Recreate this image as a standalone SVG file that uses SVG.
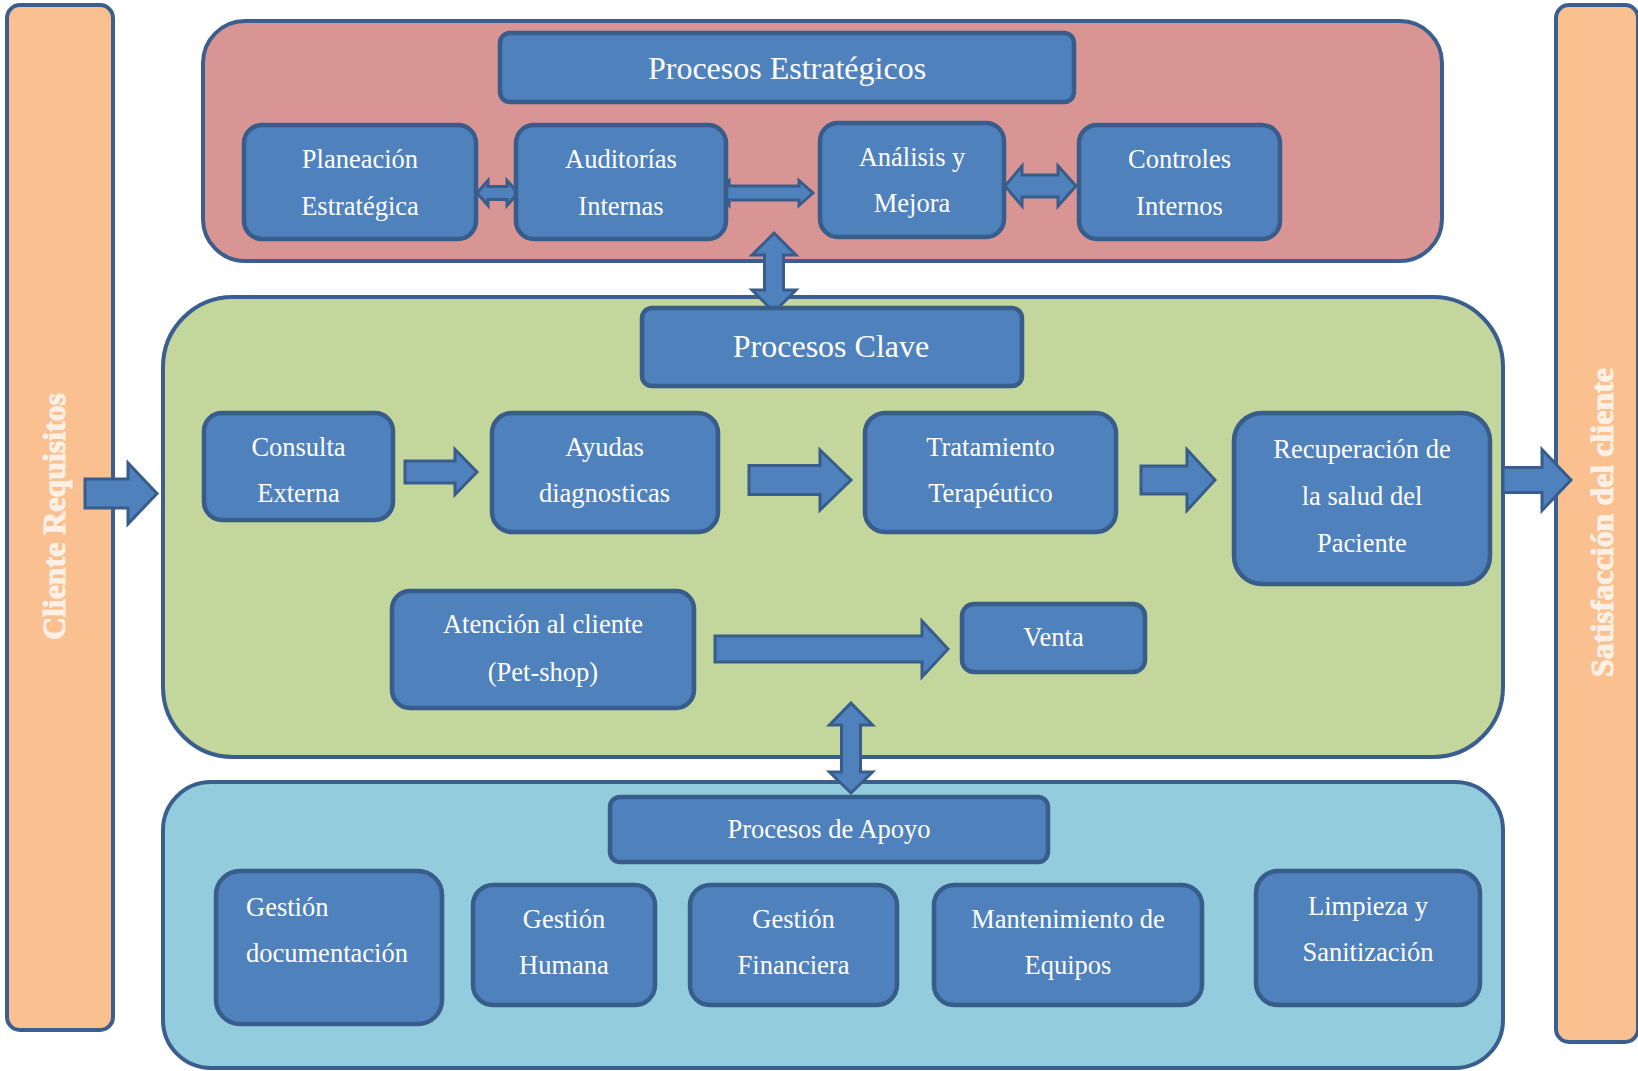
<svg xmlns="http://www.w3.org/2000/svg" width="1638" height="1071" viewBox="0 0 1638 1071">
  <style>
    .bar { fill: #FAC090; stroke: #3A5F8E; stroke-width: 4; }
    .panel { stroke: #3A5F8E; stroke-width: 4; }
    .node { fill: #4F81BD; stroke: #385D8A; stroke-width: 4.5; }
    .arrow { fill: #4F81BD; stroke: #385D8A; stroke-width: 3; stroke-linejoin: miter; }
    .t { font-family: "Liberation Serif", "Times New Roman", serif; fill: #FFFFFF; text-anchor: middle; font-size: 26.5px; }
    .big { font-size: 32px; }
    .side { font-family: "Liberation Serif", "Times New Roman", serif; font-weight: bold; font-size: 32px; fill: #FDF1E7; stroke: #FDF1E7; stroke-width: 1; text-anchor: middle; }
  </style>
  <rect width="1638" height="1071" fill="#FFFFFF"/>

  <!-- side bars -->
  <g id="cliente-requisitos">
    <rect class="bar" x="7" y="5" width="106" height="1025" rx="13"/>
    <text class="side" transform="translate(64.5,516.5) rotate(-90)" textLength="247" lengthAdjust="spacingAndGlyphs">Cliente Requisitos</text>
  </g>
  <g id="satisfaccion-cliente">
    <rect class="bar" x="1556" y="5" width="82" height="1037" rx="13"/>
    <text class="side" transform="translate(1613,522.5) rotate(-90)" textLength="309" lengthAdjust="spacingAndGlyphs">Satisfacción del cliente</text>
  </g>

  <!-- group panels -->
  <g id="panel-estrategicos">
    <rect class="panel" x="203" y="21" width="1239" height="240" rx="42" fill="#D99594"/>
  </g>
  <g id="panel-clave">
    <rect class="panel" x="163" y="297" width="1340" height="460" rx="70" fill="#C3D69B"/>
  </g>
  <g id="panel-apoyo">
    <rect class="panel" x="163" y="782" width="1340" height="286" rx="48" fill="#93CDDD"/>
  </g>

  <!-- connectors -->
  <g id="connectors">
    <!-- Planeación <-> Auditorías -->
    <polygon class="arrow" points="477,193 488,180.5 488,186.5 507,186.5 507,180.5 518,193 507,205.5 507,199.5 488,199.5 488,205.5"/>
    <!-- Auditorías <-> Análisis -->
    <polygon class="arrow" points="715,193 729,180.5 729,186 799,186 799,180.5 813,193 799,205.5 799,200 729,200 729,205.5"/>
    <!-- Análisis <-> Controles -->
    <polygon class="arrow" points="1005,186 1022,166 1022,175 1058,175 1058,166 1076,186 1058,206 1058,197 1022,197 1022,206"/>
    <!-- Estratégicos <-> Clave -->
    <polygon class="arrow" points="774,233 796,255 783.5,255 783.5,290 796,290 774,312 752,290 764.5,290 764.5,255 752,255"/>
    <!-- Clave <-> Apoyo -->
    <polygon class="arrow" points="851,703 872.5,725 860.5,725 860.5,772 872.5,772 851,793 829.5,772 841.5,772 841.5,725 829.5,725"/>
    <!-- Cliente -> Clave -->
    <polygon class="arrow" points="85,479 128,479 128,463 157,493.5 128,524 128,508 85,508"/>
    <!-- Consulta -> Ayudas -->
    <polygon class="arrow" points="405,461 455,461 455,449.5 477,472 455,494.5 455,483 405,483"/>
    <!-- Ayudas -> Tratamiento -->
    <polygon class="arrow" points="749,465.5 820,465.5 820,450 851,480 820,510 820,494.5 749,494.5"/>
    <!-- Tratamiento -> Recuperación -->
    <polygon class="arrow" points="1141,466 1187,466 1187,449.5 1215,480 1187,510.5 1187,494 1141,494"/>
    <!-- Recuperación -> Satisfacción -->
    <polygon class="arrow" points="1503,467.5 1542,467.5 1542,449.5 1571,480 1542,510.5 1542,492.5 1503,492.5"/>
    <!-- Atención -> Venta -->
    <polygon class="arrow" points="715,636 922,636 922,621 948,649 922,677 922,662 715,662"/>
  </g>

  <!-- Procesos Estratégicos -->
  <g id="procesos-estrategicos">
    <rect class="node" x="500" y="33" width="574" height="69" rx="10"/>
    <text class="t big" x="787" y="79">Procesos Estratégicos</text>
  </g>
  <g id="planeacion-estrategica">
    <rect class="node" x="244" y="125" width="232" height="114" rx="18"/>
    <text class="t" x="360" y="168">Planeación</text>
    <text class="t" x="360" y="215">Estratégica</text>
  </g>
  <g id="auditorias-internas">
    <rect class="node" x="516" y="125" width="210" height="114" rx="18"/>
    <text class="t" x="621" y="168">Auditorías</text>
    <text class="t" x="621" y="215">Internas</text>
  </g>
  <g id="analisis-mejora">
    <rect class="node" x="820" y="123" width="184" height="114" rx="18"/>
    <text class="t" x="912" y="166">Análisis y</text>
    <text class="t" x="912" y="212">Mejora</text>
  </g>
  <g id="controles-internos">
    <rect class="node" x="1079" y="125" width="201" height="114" rx="18"/>
    <text class="t" x="1179.5" y="168">Controles</text>
    <text class="t" x="1179.5" y="215">Internos</text>
  </g>

  <!-- Procesos Clave -->
  <g id="procesos-clave">
    <rect class="node" x="642" y="308" width="380" height="78" rx="10"/>
    <text class="t big" x="831" y="357">Procesos Clave</text>
  </g>
  <g id="consulta-externa">
    <rect class="node" x="204" y="413" width="189" height="107" rx="18"/>
    <text class="t" x="298.5" y="456">Consulta</text>
    <text class="t" x="298.5" y="502">Externa</text>
  </g>
  <g id="ayudas-diagnosticas">
    <rect class="node" x="492" y="413" width="226" height="119" rx="20"/>
    <text class="t" x="604.5" y="456">Ayudas</text>
    <text class="t" x="604.5" y="502">diagnosticas</text>
  </g>
  <g id="tratamiento-terapeutico">
    <rect class="node" x="865" y="413" width="251" height="119" rx="20"/>
    <text class="t" x="990.5" y="456">Tratamiento</text>
    <text class="t" x="990.5" y="502">Terapéutico</text>
  </g>
  <g id="recuperacion-salud">
    <rect class="node" x="1234" y="413" width="256" height="171" rx="28"/>
    <text class="t" x="1362" y="458">Recuperación de</text>
    <text class="t" x="1362" y="505">la salud del</text>
    <text class="t" x="1362" y="552">Paciente</text>
  </g>
  <g id="atencion-cliente">
    <rect class="node" x="392" y="591" width="302" height="117" rx="18"/>
    <text class="t" x="543" y="633">Atención al cliente</text>
    <text class="t" x="543" y="681">(Pet-shop)</text>
  </g>
  <g id="venta">
    <rect class="node" x="962" y="604" width="183" height="68" rx="12"/>
    <text class="t" x="1053.5" y="646">Venta</text>
  </g>

  <!-- Procesos de Apoyo -->
  <g id="procesos-apoyo">
    <rect class="node" x="610" y="797" width="438" height="65" rx="10"/>
    <text class="t" x="829" y="838">Procesos de Apoyo</text>
  </g>
  <g id="gestion-documentacion">
    <rect class="node" x="216" y="871" width="226" height="153" rx="24"/>
    <text class="t" x="246" y="916" style="text-anchor:start">Gestión</text>
    <text class="t" x="246" y="962" style="text-anchor:start">documentación</text>
  </g>
  <g id="gestion-humana">
    <rect class="node" x="473" y="885" width="182" height="120" rx="20"/>
    <text class="t" x="564" y="928">Gestión</text>
    <text class="t" x="564" y="974">Humana</text>
  </g>
  <g id="gestion-financiera">
    <rect class="node" x="690" y="885" width="207" height="120" rx="20"/>
    <text class="t" x="793.5" y="928">Gestión</text>
    <text class="t" x="793.5" y="974">Financiera</text>
  </g>
  <g id="mantenimiento-equipos">
    <rect class="node" x="934" y="885" width="268" height="120" rx="20"/>
    <text class="t" x="1068" y="928">Mantenimiento de</text>
    <text class="t" x="1068" y="974">Equipos</text>
  </g>
  <g id="limpieza-sanitizacion">
    <rect class="node" x="1256" y="871" width="224" height="134" rx="22"/>
    <text class="t" x="1368" y="915">Limpieza y</text>
    <text class="t" x="1368" y="961">Sanitización</text>
  </g>
</svg>
